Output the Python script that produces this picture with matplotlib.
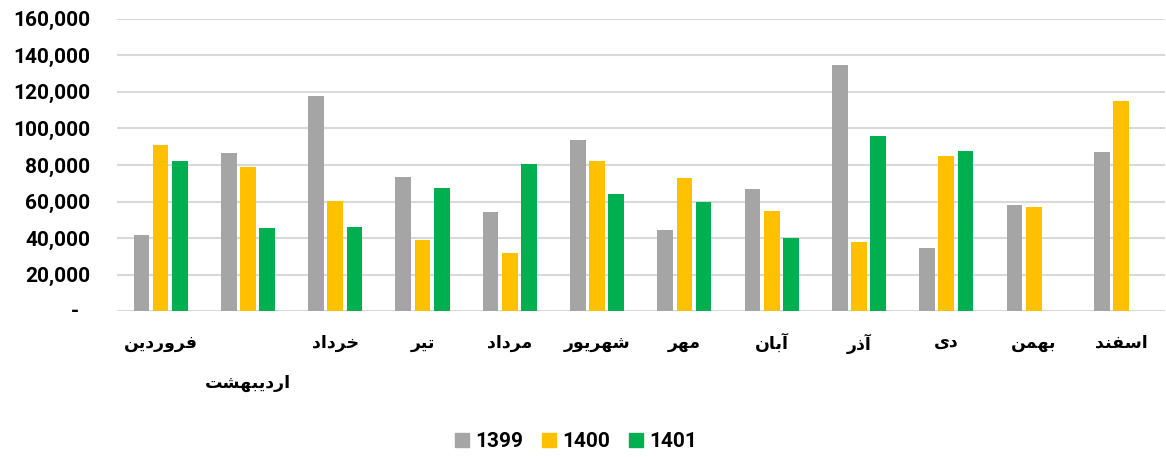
import matplotlib
matplotlib.use("Agg")
import matplotlib.pyplot as plt
import numpy as np
from matplotlib.ticker import FuncFormatter
from matplotlib.patches import Patch

months = ["فروردین", "اردیبهشت", "خرداد", "تیر", "مرداد", "شهریور",
          "مهر", "آبان", "آذر", "دی", "بهمن", "اسفند"]
years = ["1399", "1400", "1401"]
v1399 = [41500, 86600, 117500, 73500, 54200, 93500, 44400, 67000, 134500, 34600, 58000, 87300]
v1400 = [91000, 79000, 60200, 39100, 31900, 82200, 72800, 54800, 37700, 84800, 57000, 115000]
v1401 = [82200, 45500, 46000, 67300, 80400, 64200, 60000, 40200, 95700, 87700, np.nan, np.nan]
colors = ["#A5A5A5", "#FFC000", "#00B050"]

# minimal Persian shaping: (isolated, final, initial, medial)
FORMS = {
    "ا": ("\uFE8D", "\uFE8E", None, None), "آ": ("\uFE81", "\uFE82", None, None),
    "ب": ("\uFE8F", "\uFE90", "\uFE91", "\uFE92"), "ت": ("\uFE95", "\uFE96", "\uFE97", "\uFE98"),
    "خ": ("\uFEA5", "\uFEA6", "\uFEA7", "\uFEA8"), "د": ("\uFEA9", "\uFEAA", None, None),
    "ذ": ("\uFEAB", "\uFEAC", None, None), "ر": ("\uFEAD", "\uFEAE", None, None),
    "س": ("\uFEB1", "\uFEB2", "\uFEB3", "\uFEB4"), "ش": ("\uFEB5", "\uFEB6", "\uFEB7", "\uFEB8"),
    "ف": ("\uFED1", "\uFED2", "\uFED3", "\uFED4"), "م": ("\uFEE1", "\uFEE2", "\uFEE3", "\uFEE4"),
    "ن": ("\uFEE5", "\uFEE6", "\uFEE7", "\uFEE8"), "ه": ("\uFEE9", "\uFEEA", "\uFEEB", "\uFEEC"),
    "و": ("\uFEED", "\uFEEE", None, None), "ی": ("\uFEEF", "\uFEF0", "\uFEF3", "\uFEF4"),
}


def shape(word):
    out = []
    for i, ch in enumerate(word):
        f = FORMS[ch]
        prev_joins = i > 0 and FORMS[word[i - 1]][2] is not None
        next_joins = i < len(word) - 1 and f[2] is not None
        if prev_joins and next_joins:
            out.append(f[3])
        elif prev_joins:
            out.append(f[1])
        elif next_joins:
            out.append(f[2])
        else:
            out.append(f[0])
    return "".join(reversed(out))


plt.rcParams['font.family'] = ['Roboto', 'DejaVu Sans']

fig = plt.figure(figsize=(11.66, 4.57), dpi=100)
ax = fig.add_axes([0.1003, 0.3184, 0.8985, 0.6411])

x = np.arange(len(months))
w = 0.18
offs = [-0.22, 0, 0.22]
for vals, c, o, yr in zip([v1399, v1400, v1401], colors, offs, years):
    ax.bar(x + o, vals, w, color=c, label=yr, zorder=3)

ax.set_xlim(-0.5, len(months) - 0.5)
ax.set_ylim(0, 160000)
ax.set_yticks(np.arange(0, 160001, 20000))
ax.yaxis.set_major_formatter(FuncFormatter(lambda v, p: "" if v == 0 else f"{int(v):,}"))
ax.text(-0.036, 0, "-", transform=ax.get_yaxis_transform(), ha="right", va="center",
        fontsize=15, fontweight="bold")
ax.grid(axis="y", color="#D9D9D9", linewidth=1.5, zorder=0)
for s in ax.spines.values():
    s.set_visible(False)
ax.tick_params(axis="both", length=0)
ax.tick_params(axis="y", labelsize=15, pad=19)
for t in ax.get_yticklabels():
    t.set_fontweight("bold")

labels = [shape(m) for m in months]
labels[1] = "\n" + labels[1]
ax.set_xticks(x)
ax.set_xticklabels(labels, family="DejaVu Sans", fontweight="bold", fontsize=12.5,
                   linespacing=2.6)
ax.tick_params(axis="x", pad=16)

handles = [Patch(color=c, label=y) for c, y in zip(colors, years)]
fig.legend(handles=handles, loc="center", bbox_to_anchor=(0.494, 0.033), ncol=3,
           frameon=False, prop={"family": "Roboto", "size": 15, "weight": "bold"},
           handlelength=0.67, handleheight=0.67, handletextpad=0.3, columnspacing=0.9)

fig.savefig("out.png", dpi=100)
